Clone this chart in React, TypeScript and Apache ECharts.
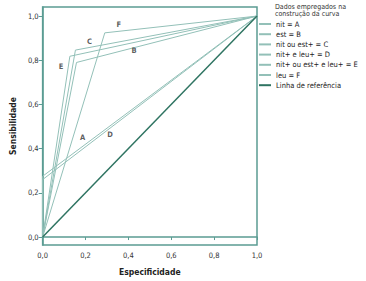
import React, { useEffect, useRef } from "react";
import * as echarts from "echarts";

const curveNames = ["nit = A", "est = B", "nit ou est+ = C", "nit+ e leu+ = D", "nit+ ou est+ e leu+ = E", "leu = F"];
const curveLetters = ["A", "B", "C", "D", "E", "F"];
// vertex (1 - especificidade, sensibilidade) for each curve
const vertexX = [0.0, 0.158, 0.153, 0.0, 0.127, 0.29];
const vertexY = [0.275, 0.79, 0.846, 0.26, 0.818, 0.924];
const letterX = [0.186, 0.427, 0.218, 0.314, 0.086, 0.355];
const letterY = [0.452, 0.842, 0.887, 0.466, 0.774, 0.964];
const refName = "Linha de referência";
const refLine = [[0, 0], [1, 1]];
const tickValues = [0, 0.2, 0.4, 0.6, 0.8, 1.0];

const FONT = "DejaVu Sans Condensed";
const AXIS_COLOR = "#5b9c93";
const CURVE_COLOR = "#93c0b8";
const REF_COLOR = "#2f7462";

export default function App() {
  const ref = useRef<HTMLDivElement>(null);
  useEffect(() => {
    if (!ref.current) return;
    const chart = echarts.init(ref.current, undefined, { renderer: "svg" });
    const fmt = (v: number) => Number(v).toFixed(1).replace(".", ",");
    const curveSeries = curveNames.map((name, i) => ({
      name,
      type: "line",
      data: [[0, 0], [vertexX[i], vertexY[i]], [1, 1]],
      symbol: "none",
      showSymbol: false,
      lineStyle: { color: CURVE_COLOR, width: 1 },
      itemStyle: { color: CURVE_COLOR },
      z: 2,
    }));
    chart.setOption({
      animation: false,
      textStyle: { fontFamily: FONT },
      title: {
        text: "Dados empregados na\nconstrução da curva",
        left: 275,
        top: 3,
        padding: 0,
        textStyle: { fontSize: 7, fontWeight: "normal", color: "#333", lineHeight: 7.5, fontFamily: FONT },
      },
      legend: {
        orient: "vertical",
        left: 258,
        top: 20,
        padding: 0,
        itemWidth: 12,
        itemHeight: 8,
        itemGap: 2.2,
        itemStyle: { opacity: 0 },
        textStyle: { fontSize: 7.5, color: "#222", fontFamily: FONT },
        data: [...curveNames, refName],
      },
      grid: {
        left: 37,
        right: 109,
        top: 7,
        bottom: 36,
        show: true,
        borderColor: AXIS_COLOR,
        borderWidth: 1.5,
      },
      xAxis: {
        type: "value",
        min: 0,
        max: 1,
        interval: 0.2,
        name: "Especificidade",
        nameLocation: "middle",
        nameGap: 22,
        nameTextStyle: { fontSize: 8.5, fontWeight: "bold", color: "#222", fontFamily: FONT },
        axisLine: { lineStyle: { color: AXIS_COLOR, width: 1.5 } },
        axisTick: { show: true, length: 3, lineStyle: { color: AXIS_COLOR } },
        axisLabel: { fontSize: 7.5, color: "#333", margin: 6, formatter: fmt },
        splitLine: { show: false },
      },
      yAxis: {
        type: "value",
        min: -0.036,
        max: 1.041,
        name: "Sensibilidade",
        nameLocation: "middle",
        nameGap: 22,
        nameTextStyle: { fontSize: 8.5, fontWeight: "bold", color: "#222", fontFamily: FONT },
        axisLine: { show: true, lineStyle: { color: AXIS_COLOR, width: 1.5 } },
        axisTick: { show: true, length: 4, lineStyle: { color: AXIS_COLOR }, customValues: tickValues },
        axisLabel: { fontSize: 7.5, color: "#333", margin: 4, formatter: fmt, customValues: tickValues },
        splitLine: { show: false },
      },
      series: [
        ...curveSeries,
        {
          name: refName,
          type: "line",
          data: refLine,
          symbol: "none",
          showSymbol: false,
          lineStyle: { color: REF_COLOR, width: 1.5 },
          itemStyle: { color: REF_COLOR },
          z: 3,
        },
        {
          name: "letras",
          type: "scatter",
          symbolSize: 0,
          data: curveLetters.map((l, i) => ({ value: [letterX[i], letterY[i]], name: l })),
          label: {
            show: true,
            position: "inside",
            formatter: (p: any) => p.name,
            fontSize: 7.5,
            fontWeight: "bold",
            color: "#333",
            fontFamily: FONT,
          },
          silent: true,
        },
      ],
    });
    return () => chart.dispose();
  }, []);
  return <div ref={ref} style={{ width: 366, height: 281, position: "absolute", left: 0, top: 0 }} />;
}
